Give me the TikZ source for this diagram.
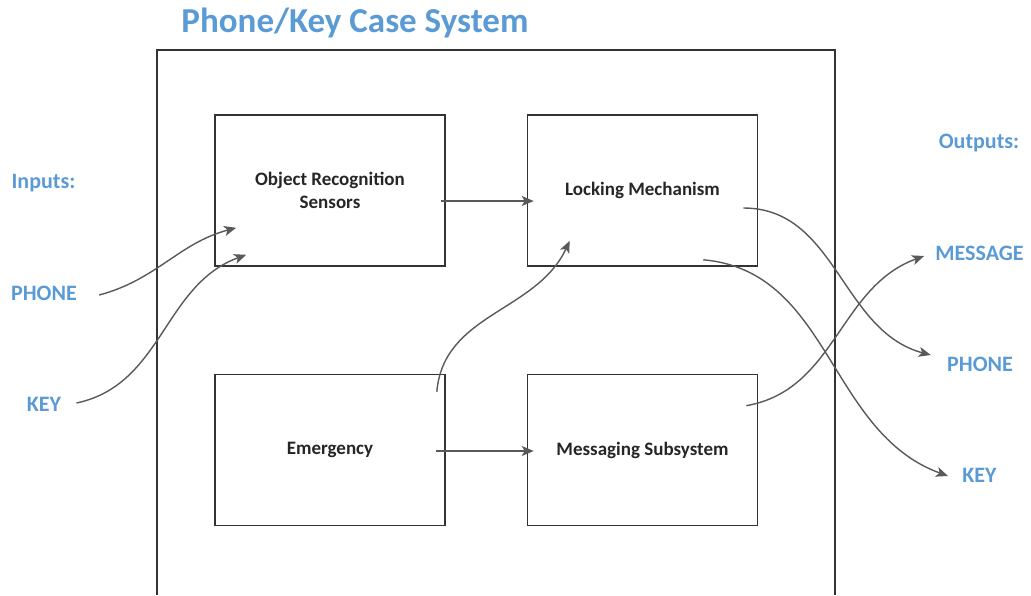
\documentclass[tikz,border=0pt]{standalone}
\usepackage{fontspec}
\setmainfont{Carlito}
\usetikzlibrary{arrows.meta}
\definecolor{titleblue}{HTML}{5B9BD5}
\definecolor{linegray}{HTML}{595959}
\begin{document}
\begin{tikzpicture}[x=0.5pt,y=-0.5pt]
  \tikzset{ blk/.style={draw=black!80,line width=0.8pt,minimum width=115pt,minimum height=75.5pt,align=center,text=black!85,font=\bfseries\fontsize{9.5}{11.5}\selectfont},
    lbl/.style={titleblue,inner sep=0pt,font=\bfseries\fontsize{11}{13}\selectfont},
    con/.style={linegray,line width=0.7pt,-{Stealth[length=6pt,width=5pt,inset=1.5pt]}},
  }
  \useasboundingbox (0,0) rectangle (1031,595);
  \node[titleblue,font=\bfseries\fontsize{17.5}{20}\selectfont] (title) at (355,23) {Phone/Key Case System};
  \draw[black!80,line width=0.8pt] (157,595) -- (157,50) -- (835,50) -- (835,595);

  \node[blk] (ors) at (330,190.5) {Object Recognition\\Sensors};
  \node[blk] (lm) at (642.5,190.5) {Locking Mechanism};
  \node[blk] (em) at (330,450) {Emergency};
  \node[blk] (ms) at (642.5,450) {Messaging Subsystem};

  \node[lbl] (in) at (43.5,183) {Inputs:};
  \node[lbl] (pin) at (44,293) {PHONE};
  \node[lbl] (kin) at (44,404) {KEY};
  \node[lbl] (out) at (979,143) {Outputs:};
  \node[lbl] (mout) at (979.5,253) {MESSAGE};
  \node[lbl] (pout) at (980,364) {PHONE};
  \node[lbl] (kout) at (979.5,475) {KEY};

  % inputs into the case
  \draw[con] ([shift={(22,2)}]pin.east) to[out=15,in=195] ([shift={(22,-39)}]ors.south west);
  \draw[con] ([shift={(15,-1)}]kin.east) to[out=12,in=200] ([shift={(32,-12)}]ors.south west);

  % between the blocks
  \draw[con] ([shift={(-5,10.5)}]ors.east) -- ([shift={(7,10.5)}]lm.west);
  \draw[con] ([shift={(-10,1)}]em.east) -- ([shift={(7,1)}]ms.west);
  \draw[con] ([shift={(-9,18)}]em.north east) to[out=85,in=245] ([shift={(43,-26)}]lm.south west);

  % outputs
  \draw[con] ([shift={(-15,17.5)}]lm.east) to[out=0,in=165] ([shift={(-16,-9)}]pout.west);
  \draw[con] ([shift={(-55,-7)}]lm.south east) to[out=-5,in=160] ([shift={(-14,1)}]kout.west);
  \draw[con] ([shift={(-12,32)}]ms.north east) to[out=10,in=200] ([shift={(-11,3)}]mout.west);
\end{tikzpicture}
\end{document}
